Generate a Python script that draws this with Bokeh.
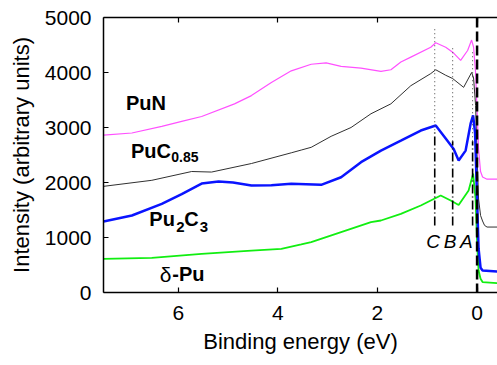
from bokeh.plotting import figure
from bokeh.models import Range1d, LinearAxis, FixedTicker, Label, Span
from bokeh.embed import file_html
from bokeh.resources import INLINE

# ---------------- data ----------------
pun_x = [7.5, 6.93, 6.33, 5.93, 5.53, 4.87, 4.53, 4.13, 3.73, 3.33, 3.03, 2.73, 2.33, 1.93,
         1.73, 1.53, 1.33, 0.93, 0.83, 0.63, 0.49, 0.33, 0.19, 0.11, 0.07, 0.03, 0.0, -0.03,
         -0.07, -0.11, -0.2, -0.41]
pun_y = [2860, 2900, 3020, 3110, 3200, 3430, 3580, 3820, 4030, 4150, 4175, 4110, 4080, 4020,
         4050, 4190, 4280, 4460, 4540, 4460, 4370, 4220, 4400, 4590, 4460, 4000, 3300, 2600,
         2200, 2100, 2060, 2060]

puc_x = [7.5, 6.53, 5.73, 5.33, 4.53, 3.73, 3.53, 3.33, 2.93, 2.53, 2.13, 1.73, 1.33, 0.93,
         0.83, 0.63, 0.49, 0.27, 0.11, 0.07, 0.03, 0.0, -0.03, -0.07, -0.11, -0.15, -0.2, -0.41]
puc_y = [1930, 2040, 2200, 2190, 2345, 2540, 2590, 2640, 2840, 3000, 3250, 3430, 3760, 3980,
         4050, 3950, 3890, 3730, 4000, 3900, 3400, 2500, 1700, 1400, 1300, 1220, 1190, 1190]

pu2c3_x = [7.5, 6.93, 6.33, 5.93, 5.53, 5.19, 4.9, 4.53, 4.13, 3.73, 3.13, 2.73, 2.33, 1.93,
           1.53, 1.13, 0.83, 0.63, 0.47, 0.37, 0.23, 0.13, 0.08, 0.04, 0.01, -0.03, -0.07,
           -0.11, -0.41]
pu2c3_y = [1290, 1400, 1610, 1790, 1980, 2020, 2000, 1945, 1950, 1976, 1958, 2096, 2370, 2580,
           2760, 2945, 3036, 2800, 2610, 2400, 2580, 3070, 3220, 2900, 2000, 800, 450, 400, 380]

dpu_x = [7.5, 6.53, 5.53, 4.53, 3.93, 3.53, 3.33, 2.73, 2.13, 1.93, 1.53, 1.13, 0.73, 0.53,
         0.37, 0.17, 0.08, 0.03, 0.0, -0.03, -0.07, -0.11, -0.41]
dpu_y = [612, 630, 703, 760, 794, 873, 915, 1096, 1278, 1309, 1430, 1582, 1764, 1673,
         1590, 1855, 2160, 1700, 900, 400, 250, 190, 170]

marker_names = ["C", "B", "A"]
marker_x = [0.85, 0.49, 0.09]
marker_dot_top = [4800, 4450, 4400]
marker_dot_bottom = [2950, 2750, 2750]
marker_dash_bottom = [1220, 1220, 1220]

x_ticks = [6, 4, 2, 0]
y_ticks = [0, 1000, 2000, 3000, 4000, 5000]

FONT = "Liberation Sans"

p = figure(width=497, height=365, output_backend="svg", toolbar_location=None,
           x_range=Range1d(7.5, -0.41), y_range=Range1d(0, 5000),
           min_border_left=103, min_border_right=0, min_border_top=17, min_border_bottom=73)
p.outline_line_color = None
p.grid.visible = False
p.background_fill_color = "white"
p.border_fill_color = "white"

for ax in (p.xaxis[0], p.yaxis[0]):
    ax.major_tick_in = 5
    ax.major_tick_out = 0
    ax.minor_tick_in = 0
    ax.minor_tick_out = 0
    ax.axis_line_width = 1.5
    ax.major_tick_line_width = 1.2
    ax.major_label_text_font = FONT
    ax.major_label_text_font_size = "21px"
    ax.major_label_text_color = "black"
    ax.axis_label_text_font = FONT
    ax.axis_label_text_font_style = "normal"
    ax.axis_label_text_font_size = "22px"
    ax.axis_label_text_color = "black"

p.xaxis[0].ticker = FixedTicker(ticks=x_ticks)
p.yaxis[0].ticker = FixedTicker(ticks=y_ticks)
p.xaxis[0].major_label_standoff = 13
p.yaxis[0].major_label_standoff = 12
p.xaxis[0].axis_label = "Binding energy (eV)"
p.xaxis[0].axis_label_standoff = 6
p.yaxis[0].axis_label = "Intensity (arbitrary units)"
p.yaxis[0].axis_label_standoff = 8

top = LinearAxis(ticker=FixedTicker(ticks=x_ticks), major_tick_in=5, major_tick_out=0,
                 minor_tick_in=0, minor_tick_out=0, axis_line_width=1.5,
                 major_tick_line_width=1.2, major_label_text_font_size="1px",
                 major_label_text_alpha=0, major_label_standoff=0)
p.add_layout(top, "above")

# curves
p.line(pun_x, pun_y, line_color="#ff50ff", line_width=1.2)
p.line(puc_x, puc_y, line_color="#303030", line_width=1.0)
p.line(dpu_x, dpu_y, line_color="#11ee11", line_width=1.8)
p.line(pu2c3_x, pu2c3_y, line_color="#0a14ff", line_width=2.5)

# marker lines
p.segment(x0=marker_x, y0=marker_dot_bottom, x1=marker_x, y1=marker_dot_top,
          line_color="#444444", line_width=1.0, line_dash="1 3")
p.segment(x0=marker_x, y0=marker_dash_bottom, x1=marker_x, y1=marker_dot_bottom,
          line_color="black", line_width=1.6, line_dash="9 3 1 3")
p.add_layout(Span(location=0, dimension="height", line_color="black",
                  line_width=2.5, line_dash="10 4"))

label_x = [0.884, 0.544, 0.214]
for name, lx in zip(marker_names, label_x):
    p.add_layout(Label(x=lx, y=934, text=name, text_font=FONT, text_font_size="19px",
                       text_font_style="italic", text_align="center",
                       text_baseline="alphabetic", text_color="black"))

def lab(x, y, t, size="20px", style="bold"):
    p.add_layout(Label(x=x, y=y, text=t, text_font=FONT, text_font_size=size,
                       text_font_style=style, text_align="left",
                       text_baseline="alphabetic", text_color="black"))

lab(7.05, 3437, "PuN")
lab(6.95, 2565, "PuC")
lab(6.14, 2455, "0.85", size="14px")
lab(6.58, 1328, "Pu")
lab(6.04, 1183, "2", size="15px")
lab(5.88, 1328, "C")
lab(5.57, 1183, "3", size="15px")
lab(6.37, 328, "\u03b4", size="21px", style="normal")
lab(6.12, 328, "-Pu")

open("out.html", "w").write(file_html(p, INLINE))
